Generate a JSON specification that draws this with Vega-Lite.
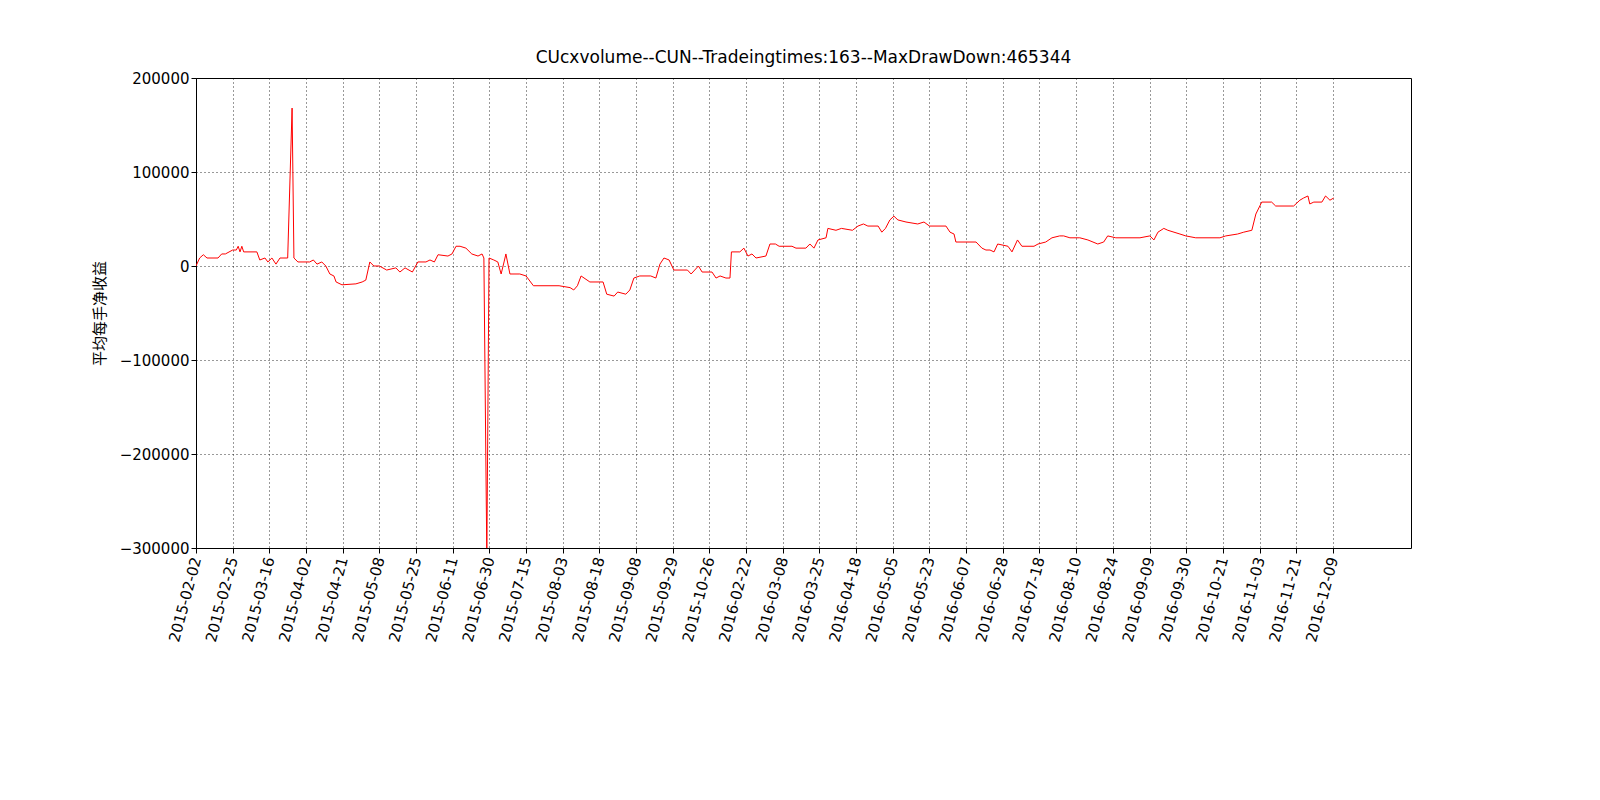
{
  "$schema": "https://vega.github.io/schema/vega-lite/v6.json",
  "width": 1215,
  "height": 470,
  "autosize": {"type": "none"},
  "padding": {"left": 196, "top": 78, "right": 189, "bottom": 252},
  "background": "white",
  "title": {"text": "CUcxvolume--CUN--Tradeingtimes:163--MaxDrawDown:465344", "font": "DejaVu Sans", "fontSize": 17, "fontWeight": "normal", "offset": 4},
  "data": {"values": [
    {"i":0,"v":0},{"i":1,"v":8500},{"i":2,"v":12000},{"i":3,"v":8500},{"i":6,"v":8500},{"i":7,"v":12800},{"i":8,"v":12800},{"i":10,"v":17000},{"i":11,"v":17000},{"i":11.5,"v":21000},{"i":12,"v":15000},{"i":12.5,"v":21000},{"i":13,"v":15000},{"i":16.6,"v":15000},{"i":17.4,"v":6400},{"i":18.8,"v":8500},{"i":19.6,"v":4300},{"i":20.7,"v":8500},{"i":21.8,"v":2000},{"i":22.9,"v":8500},{"i":25,"v":8500},{"i":26.2,"v":168000},{"i":26.7,"v":8500},{"i":27.8,"v":4300},{"i":31,"v":4300},{"i":32,"v":6400},{"i":33,"v":2000},{"i":34.3,"v":4300},{"i":35.4,"v":0},{"i":36.5,"v":-8500},{"i":37.6,"v":-10600},{"i":38.2,"v":-17000},{"i":39.8,"v":-20000},{"i":43.6,"v":-19000},{"i":45.3,"v":-17000},{"i":46.3,"v":-15000},{"i":47.4,"v":4300},{"i":48.5,"v":0},{"i":50,"v":0},{"i":52,"v":-4300},{"i":54.5,"v":-2000},{"i":55.6,"v":-6400},{"i":57,"v":-2000},{"i":59,"v":-6400},{"i":60.5,"v":4300},{"i":62.7,"v":4300},{"i":63.8,"v":6400},{"i":65,"v":4300},{"i":66,"v":12000},{"i":68.7,"v":10600},{"i":69.8,"v":12800},{"i":70.9,"v":21000},{"i":72,"v":21000},{"i":73.6,"v":19000},{"i":75.2,"v":12800},{"i":76.9,"v":10600},{"i":78,"v":12800},{"i":78.5,"v":8500},{"i":79.3,"v":-310000},{"i":79.9,"v":8500},{"i":81.2,"v":6400},{"i":82.3,"v":4300},{"i":83.2,"v":-8500},{"i":84,"v":4300},{"i":84.5,"v":12800},{"i":85.6,"v":-8500},{"i":88.3,"v":-8500},{"i":90,"v":-10600},{"i":92,"v":-21000},{"i":99,"v":-21000},{"i":102,"v":-23000},{"i":103,"v":-25500},{"i":104,"v":-21000},{"i":105,"v":-10600},{"i":107.4,"v":-17000},{"i":111,"v":-17000},{"i":112,"v":-30000},{"i":114,"v":-32000},{"i":115,"v":-27700},{"i":117.2,"v":-30000},{"i":118.3,"v":-25500},{"i":119.4,"v":-12800},{"i":121,"v":-10600},{"i":124,"v":-10600},{"i":125.4,"v":-12800},{"i":126.5,"v":2000},{"i":127.6,"v":8500},{"i":129,"v":6400},{"i":130.3,"v":-4300},{"i":134,"v":-4300},{"i":135,"v":-8500},{"i":137,"v":0},{"i":138,"v":-6400},{"i":140.7,"v":-6400},{"i":141.8,"v":-12800},{"i":142.9,"v":-10600},{"i":144.5,"v":-12800},{"i":145.6,"v":-12800},{"i":146,"v":15000},{"i":148.3,"v":15000},{"i":149.4,"v":19000},{"i":150.5,"v":10600},{"i":151.6,"v":12800},{"i":152.7,"v":8500},{"i":155.4,"v":10600},{"i":156.5,"v":23400},{"i":158,"v":23400},{"i":159,"v":21000},{"i":162.5,"v":21000},{"i":163.6,"v":19000},{"i":166.3,"v":19000},{"i":167.4,"v":23400},{"i":168.5,"v":19000},{"i":169.6,"v":27700},{"i":171.8,"v":30000},{"i":172.3,"v":40000},{"i":174.5,"v":38000},{"i":176,"v":40000},{"i":179,"v":38000},{"i":180.5,"v":42500},{"i":182,"v":44700},{"i":183.2,"v":42500},{"i":186,"v":42500},{"i":187,"v":36000},{"i":188,"v":40000},{"i":189.2,"v":49000},{"i":190.3,"v":53000},{"i":191.4,"v":49000},{"i":193.6,"v":46800},{"i":196.8,"v":44700},{"i":198.5,"v":46800},{"i":200,"v":42500},{"i":204.5,"v":42500},{"i":205.6,"v":36000},{"i":206.7,"v":34000},{"i":207.2,"v":25500},{"i":212.7,"v":25500},{"i":214.3,"v":19000},{"i":215.4,"v":17000},{"i":216.5,"v":17000},{"i":217.6,"v":15000},{"i":218.6,"v":23400},{"i":221.4,"v":21000},{"i":222.5,"v":15000},{"i":224,"v":27700},{"i":225.2,"v":21000},{"i":228.5,"v":21000},{"i":229.6,"v":23400},{"i":231.7,"v":25500},{"i":233.4,"v":30000},{"i":235.5,"v":32000},{"i":236.6,"v":32000},{"i":238.3,"v":30000},{"i":241,"v":30000},{"i":243.2,"v":27700},{"i":245.9,"v":23400},{"i":247.5,"v":25500},{"i":248.6,"v":32000},{"i":250.8,"v":30000},{"i":257.4,"v":30000},{"i":260.1,"v":32000},{"i":261.2,"v":27700},{"i":262.3,"v":36000},{"i":263.9,"v":40000},{"i":265,"v":38000},{"i":268.3,"v":34000},{"i":269.9,"v":32000},{"i":272.6,"v":30000},{"i":279.2,"v":30000},{"i":280.8,"v":32000},{"i":284,"v":34000},{"i":285.7,"v":36000},{"i":287.9,"v":38000},{"i":289,"v":55300},{"i":290.6,"v":68000},{"i":293.3,"v":68000},{"i":294.4,"v":63800},{"i":299.3,"v":63800},{"i":301,"v":70000},{"i":302,"v":72300},{"i":303.2,"v":74500},{"i":303.7,"v":66000},{"i":304.8,"v":68000},{"i":307,"v":68000},{"i":308,"v":74500},{"i":309.2,"v":70000},{"i":310.2,"v":72300}
  ]},
  "mark": {"type": "line", "color": "red", "strokeWidth": 1, "clip": true},
  "encoding": {
    "x": {
      "field": "i", "type": "quantitative",
      "scale": {"domain": [0, 331.3], "nice": false, "zero": false},
      "axis": {
        "title": null,
        "values": [0,10,20,30,40,50,60,70,80,90,100,110,120,130,140,150,160,170,180,190,200,210,220,230,240,250,260,270,280,290,300,310],
        "labelExpr": "['2015-02-02','2015-02-25','2015-03-16','2015-04-02','2015-04-21','2015-05-08','2015-05-25','2015-06-11','2015-06-30','2015-07-15','2015-08-03','2015-08-18','2015-09-08','2015-09-29','2015-10-26','2016-02-22','2016-03-08','2016-03-25','2016-04-18','2016-05-05','2016-05-23','2016-06-07','2016-06-28','2016-07-18','2016-08-10','2016-08-24','2016-09-09','2016-09-30','2016-10-21','2016-11-03','2016-11-21','2016-12-09'][round(datum.value/10)]",
        "labelAngle": -75, "labelAlign": "right", "labelBaseline": "middle",
        "labelOverlap": false, "labelBound": false, "labelFlush": false,
        "labelFontSize": 15, "labelFont": "DejaVu Sans", "labelColor": "black",
        "grid": true, "gridDash": [1, 3], "gridColor": "black", "gridOpacity": 0.8,
        "tickColor": "black", "tickSize": 5, "labelPadding": 4, "domain": false
      }
    },
    "y": {
      "field": "v", "type": "quantitative",
      "scale": {"domain": [-300000, 200000], "nice": false},
      "axis": {
        "title": "平均每手净收益", "titleFont": "Noto Sans CJK SC", "titleFontSize": 15, "titleFontWeight": "normal", "titleColor": "black", "titlePadding": 12,
        "values": [-300000, -200000, -100000, 0, 100000, 200000],
        "format": "d",
        "labelFontSize": 15, "labelFont": "DejaVu Sans", "labelColor": "black",
        "grid": true, "gridDash": [1, 3], "gridColor": "black", "gridOpacity": 0.8,
        "tickColor": "black", "tickSize": 5, "domain": false
      }
    }
  },
  "config": {"view": {"stroke": "black", "strokeWidth": 1}}
}
